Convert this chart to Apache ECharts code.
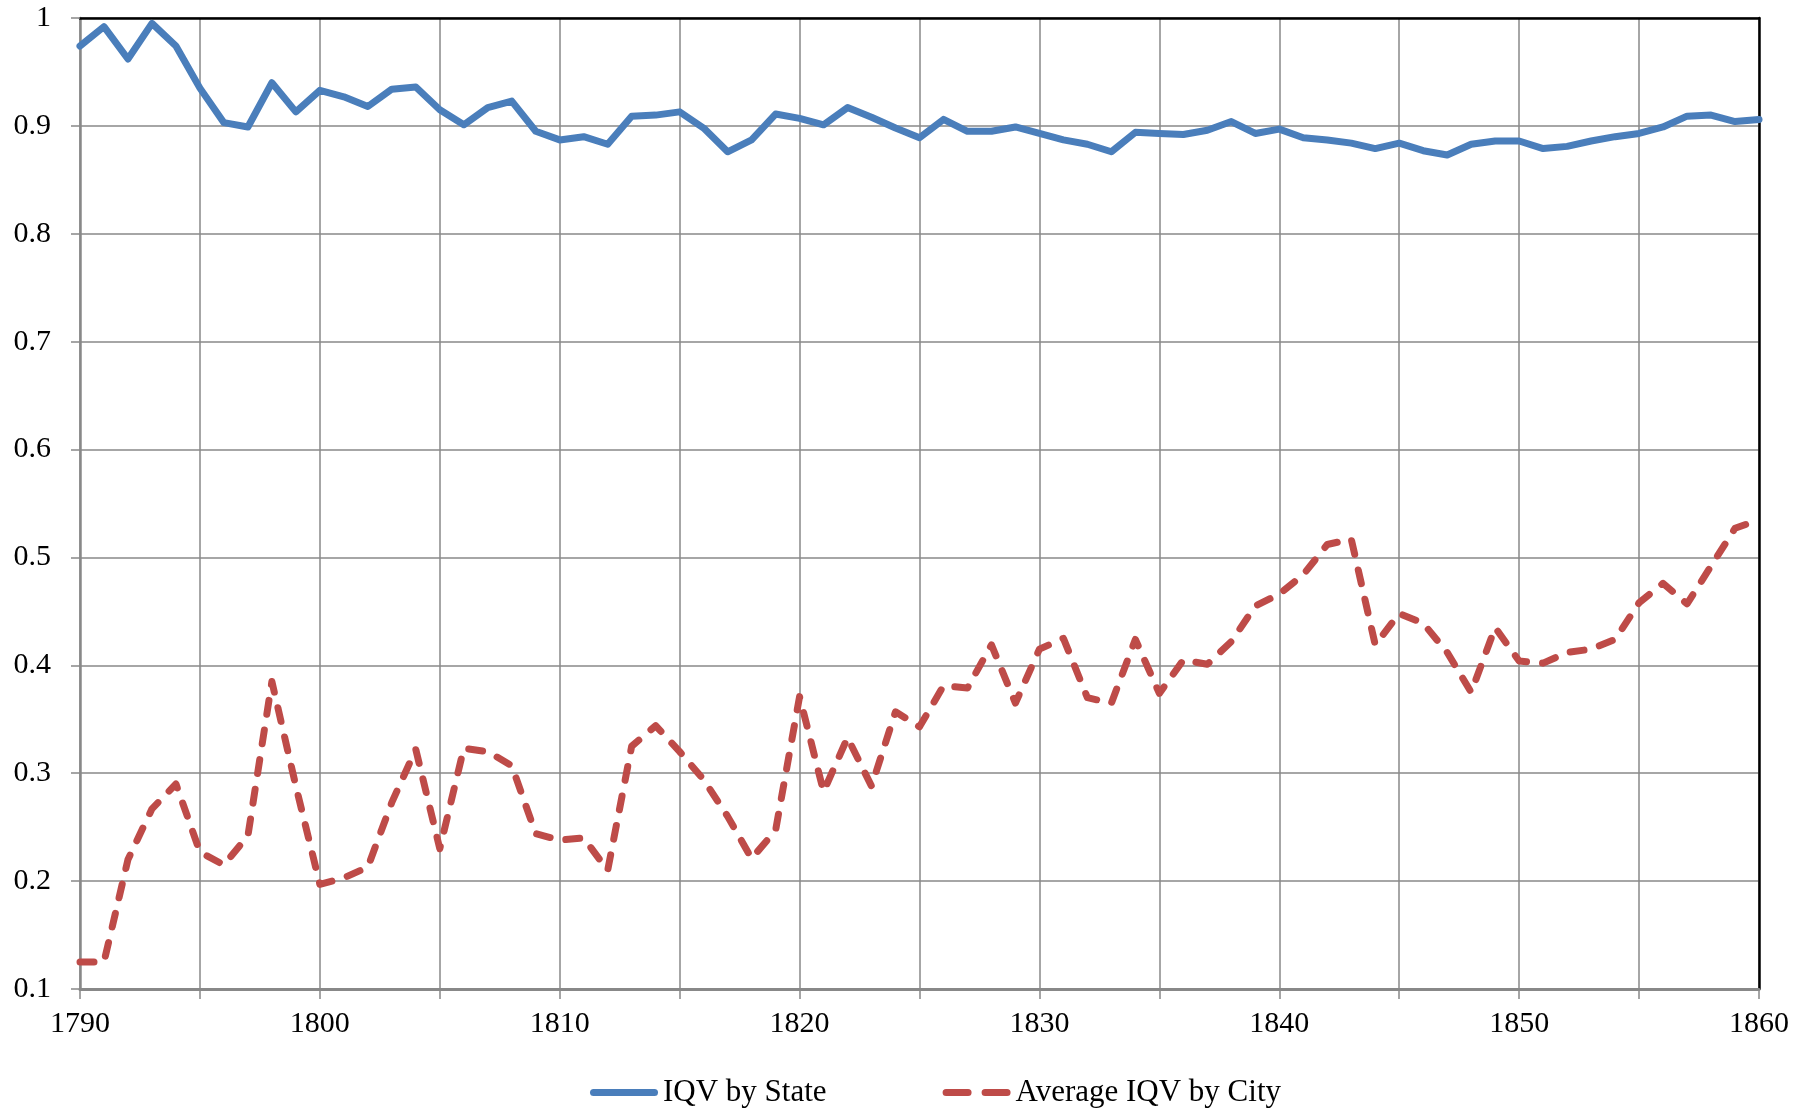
<!DOCTYPE html>
<html>
<head>
<meta charset="utf-8">
<script src="https://cdn.jsdelivr.net/npm/echarts@6/dist/echarts.min.js"></script>
<style>
html,body{margin:0;padding:0;background:#fff;}
#chart{width:1810px;height:1110px;}
</style>
</head>
<body>
<div id="chart"></div>
<script>
const startYear = 1790;
const endYear = 1860;

const iqvByState = [
  0.974, 0.992, 0.962, 0.995, 0.974, 0.935, 0.903, 0.899, 0.940, 0.913,
  0.933, 0.927, 0.918, 0.934, 0.936, 0.915, 0.901, 0.917, 0.923, 0.895,
  0.887, 0.890, 0.883, 0.909, 0.910, 0.913, 0.898, 0.876, 0.887, 0.911,
  0.907, 0.901, 0.917, 0.908, 0.898, 0.889, 0.906, 0.895, 0.895, 0.899,
  0.893, 0.887, 0.883, 0.876, 0.894, 0.893, 0.892, 0.896, 0.904, 0.893,
  0.897, 0.889, 0.887, 0.884, 0.879, 0.884, 0.877, 0.873, 0.883, 0.886,
  0.886, 0.879, 0.881, 0.886, 0.890, 0.893, 0.899, 0.909, 0.910, 0.904,
  0.906
];

const avgIqvByCity = [
  0.125, 0.125, 0.220, 0.267, 0.290, 0.227, 0.215, 0.242, 0.385, 0.288,
  0.197, 0.203, 0.213, 0.273, 0.322, 0.230, 0.323, 0.320, 0.307, 0.244,
  0.238, 0.240, 0.210, 0.325, 0.344, 0.320, 0.294, 0.260, 0.221, 0.247,
  0.371, 0.283, 0.333, 0.288, 0.357, 0.343, 0.381, 0.379, 0.419, 0.365,
  0.415, 0.425, 0.370, 0.365, 0.424, 0.374, 0.405, 0.401, 0.422, 0.455,
  0.466, 0.484, 0.512, 0.517, 0.419, 0.448, 0.439, 0.412, 0.375, 0.435,
  0.404, 0.402, 0.412, 0.415, 0.424, 0.458, 0.476, 0.457, 0.492, 0.527,
  0.535
];

const seriesNames = ['IQV by State', 'Average IQV by City'];

const years = [];
for (let y = startYear; y <= endYear; y++) years.push(y);
const pairs = (vals) => years.map((y, i) => [y, vals[i]]);

const FONT = '"Liberation Serif", "DejaVu Serif", serif';
const GRIDC = '#888888';
const BLUE = '#4a7ebb';
const RED = '#be4b48';

// legend icons: a solid pill and two dash pills
const ICON_SOLID = 'path://M3.5,0L64.5,0A3.5,3.5,0,0,1,64.5,7L3.5,7A3.5,3.5,0,0,1,3.5,0Z';
const ICON_DASH = 'path://M3.5,0L25.5,0A3.5,3.5,0,0,1,25.5,7L3.5,7A3.5,3.5,0,0,1,3.5,0Z' +
                  'M42.5,0L64.5,0A3.5,3.5,0,0,1,64.5,7L42.5,7A3.5,3.5,0,0,1,42.5,0Z';

const chart = echarts.init(document.getElementById('chart'), null, {renderer: 'canvas'});
chart.setOption({
  animation: false,
  backgroundColor: '#ffffff',
  grid: {left: 80, right: 51, top: 18, bottom: 121, containLabel: false},
  legend: {
    show: true,
    orient: 'horizontal',
    top: 1072,
    left: 585,
    itemWidth: 68,
    itemHeight: 7,
    itemGap: 116,
    textStyle: {fontFamily: FONT, fontSize: 31, color: '#000'},
    data: [
      {name: seriesNames[0], icon: ICON_SOLID, itemStyle: {color: BLUE, borderWidth: 0}},
      {name: seriesNames[1], icon: ICON_DASH, itemStyle: {color: RED, borderWidth: 0}}
    ]
  },
  xAxis: [{
    type: 'value',
    min: startYear, max: endYear, interval: 5,
    axisLine: {show: true, onZero: false, lineStyle: {color: GRIDC, width: 3}},
    axisTick: {show: true, length: 10, inside: false, lineStyle: {color: GRIDC, width: 1.5}},
    axisLabel: {
      margin: 20, fontFamily: FONT, fontSize: 30, color: '#000',
      formatter: v => (v % 10 === 0 ? String(v) : '')
    },
    splitLine: {show: true, lineStyle: {color: GRIDC, width: 1.5}}
  }, {
    type: 'value', position: 'top',
    min: startYear, max: endYear, interval: 5,
    axisLine: {show: true, lineStyle: {color: '#000', width: 2.5}},
    axisTick: {show: false}, axisLabel: {show: false}, splitLine: {show: false}
  }],
  yAxis: [{
    type: 'value',
    min: 0.1, max: 1, interval: 0.1,
    axisLine: {show: true, onZero: false, lineStyle: {color: GRIDC, width: 2.5}},
    axisTick: {show: true, length: 9, inside: false, lineStyle: {color: GRIDC, width: 1.5}},
    axisLabel: {
      margin: 29, fontFamily: FONT, fontSize: 30, color: '#000',
      formatter: v => String(Math.round(v * 10) / 10)
    },
    splitLine: {show: true, lineStyle: {color: GRIDC, width: 1.5}}
  }, {
    type: 'value', position: 'right',
    min: 0.1, max: 1, interval: 0.1,
    axisLine: {show: true, lineStyle: {color: '#000', width: 2.5}},
    axisTick: {show: false}, axisLabel: {show: false}, splitLine: {show: false}
  }],
  series: [{
    name: seriesNames[0],
    type: 'line',
    xAxisIndex: 0, yAxisIndex: 0,
    data: pairs(iqvByState),
    showSymbol: false, symbol: 'none',
    color: BLUE,
    itemStyle: {color: BLUE},
    lineStyle: {color: BLUE, width: 7, cap: 'round', join: 'round'}
  }, {
    name: seriesNames[1],
    type: 'line',
    xAxisIndex: 0, yAxisIndex: 0,
    data: pairs(avgIqvByCity),
    showSymbol: false, symbol: 'none',
    color: RED,
    itemStyle: {color: RED},
    lineStyle: {color: RED, width: 7, cap: 'round', join: 'round', type: [14, 16]}
  }]
});
</script>
</body>
</html>
